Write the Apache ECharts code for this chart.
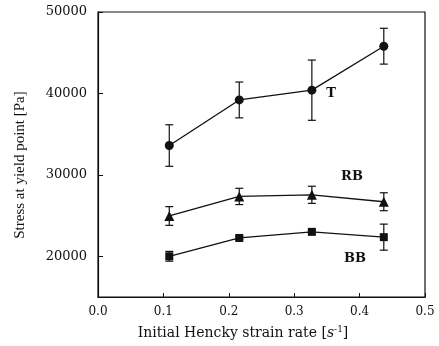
<!DOCTYPE html>
<html>
<head>
  <meta charset="UTF-8">
  <title></title>
  <script src="https://cdn.jsdelivr.net/npm/echarts@6/dist/echarts.min.js"></script>
  <style>
    html, body { margin: 0; padding: 0; background: #fff; }
    #c1 { width: 439px; height: 346px; }
  </style>
</head>
<body>
<div id="c1"></div>
<script>
  // strain rate (x) shared by all three series
  var rates = [0.109, 0.216, 0.327, 0.437];

  var tStress = [33600, 39200, 40400, 45800];
  var tErr = [2550, 2200, 3700, 2200];

  var rbStress = [24950, 27350, 27550, 26700];
  var rbErr = [1150, 1000, 1050, 1100];

  var bbStress = [20000, 22250, 23000, 22350];
  var bbErr = [600, 200, 150, 1600];

  var xTicks = [0.0, 0.1, 0.2, 0.3, 0.4, 0.5];
  var yTicks = [20000, 30000, 40000, 50000];

  var serif = '"DejaVu Serif", "Liberation Serif", serif';

  function pts(ys) {
    return rates.map(function (x, i) { return [x, ys[i]]; });
  }
  function errPts(ys, es) {
    return rates.map(function (x, i) { return [x, ys[i] - es[i], ys[i] + es[i]]; });
  }

  function renderErr(params, api) {
    var lo = api.coord([api.value(0), api.value(1)]);
    var hi = api.coord([api.value(0), api.value(2)]);
    var w = 4;
    var st = { stroke: '#111', lineWidth: 1.2 };
    return {
      type: 'group',
      children: [
        { type: 'line', shape: { x1: lo[0], y1: lo[1], x2: hi[0], y2: hi[1] }, style: st },
        { type: 'line', shape: { x1: lo[0] - w, y1: lo[1], x2: lo[0] + w, y2: lo[1] }, style: st },
        { type: 'line', shape: { x1: hi[0] - w, y1: hi[1], x2: hi[0] + w, y2: hi[1] }, style: st }
      ]
    };
  }

  function lineSeries(name, ys, symbol, size) {
    return {
      name: name,
      type: 'line',
      data: pts(ys),
      symbol: symbol,
      symbolSize: size,
      lineStyle: { color: '#111', width: 1.3 },
      itemStyle: { color: '#111' },
      z: 3
    };
  }

  function errSeries(ys, es) {
    return {
      type: 'custom',
      renderItem: renderErr,
      data: errPts(ys, es),
      encode: { x: 0, y: [1, 2] },
      z: 2
    };
  }

  var chart = echarts.init(document.getElementById('c1'));
  var option = {
    backgroundColor: '#fff',
    animation: false,
    grid: { left: 98, right: 14, top: 12, bottom: 49, show: true, borderColor: '#111', borderWidth: 1.2 },
    xAxis: {
      type: 'value',
      min: 0, max: 0.5, interval: 0.1,
      axisLine: { lineStyle: { color: '#111', width: 1.2 } },
      axisTick: { inside: true, length: 4, lineStyle: { color: '#111' } },
      splitLine: { show: false },
      axisLabel: {
        color: '#111', fontFamily: serif, fontSize: 12, margin: 9,
        formatter: function (v) { return v.toFixed(1); }
      }
    },
    yAxis: {
      type: 'value',
      min: 15000, max: 50000, interval: 5000,
      axisLine: { lineStyle: { color: '#111', width: 1.2 } },
      axisTick: { inside: true, length: 5, customValues: yTicks, lineStyle: { color: '#111' } },
      splitLine: { show: false },
      axisLabel: {
        color: '#111', fontFamily: serif, fontSize: 13, margin: 11,
        customValues: yTicks,
        formatter: function (v) { return String(v); }
      }
    },
    graphic: [
      {
        type: 'text', x: 243, y: 333,
        style: {
          text: '{a|Initial Hencky strain rate [}{i|s}{s|-1}{a|]}',
          align: 'center', verticalAlign: 'middle',
          rich: {
            a: { fontFamily: serif, fontSize: 14, fill: '#111' },
            i: { fontFamily: serif, fontSize: 14, fontStyle: 'italic', fill: '#111' },
            s: { fontFamily: serif, fontSize: 9, fill: '#111', verticalAlign: 'top', padding: [0, 0, 6, 0] }
          }
        }
      },
      {
        type: 'text', x: 20, y: 165, rotation: Math.PI / 2,
        style: {
          text: 'Stress at yield point [Pa]', align: 'center', verticalAlign: 'middle',
          fontFamily: '"Liberation Serif", serif', fontSize: 15, fill: '#111'
        }
      },
      { type: 'text', x: 331, y: 94, style: { text: 'T', align: 'center', verticalAlign: 'middle', fontFamily: serif, fontSize: 13, fontWeight: 'bold', fill: '#111' } },
      { type: 'text', x: 352, y: 177, style: { text: 'RB', align: 'center', verticalAlign: 'middle', fontFamily: serif, fontSize: 13, fontWeight: 'bold', fill: '#111' } },
      { type: 'text', x: 355, y: 259, style: { text: 'BB', align: 'center', verticalAlign: 'middle', fontFamily: serif, fontSize: 13, fontWeight: 'bold', fill: '#111' } }
    ],
    series: [
      errSeries(tStress, tErr),
      errSeries(rbStress, rbErr),
      errSeries(bbStress, bbErr),
      lineSeries('T', tStress, 'circle', 9),
      lineSeries('RB', rbStress, 'triangle', 10),
      lineSeries('BB', bbStress, 'rect', 8)
    ]
  };
  chart.setOption(option);
</script>
</body>
</html>
